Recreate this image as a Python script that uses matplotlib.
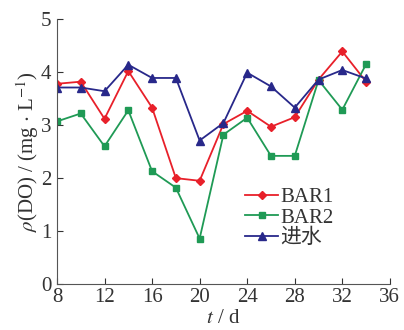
import matplotlib
matplotlib.use("Agg")
import matplotlib.pyplot as plt

days = [8, 10, 12, 14, 16, 18, 20, 22, 24, 26, 28, 30, 32, 34]
bar1 = [3.78, 3.82, 3.12, 4.02, 3.33, 2.00, 1.95, 3.02, 3.27, 2.97, 3.15, 3.86, 4.39, 3.82]
bar2 = [3.07, 3.22, 2.60, 3.28, 2.13, 1.82, 0.86, 2.82, 3.14, 2.42, 2.42, 3.85, 3.29, 4.15]
inflow = [3.71, 3.71, 3.64, 4.14, 3.89, 3.89, 2.71, 3.04, 3.99, 3.73, 3.33, 3.86, 4.04, 3.88]
labels = ["BAR1", "BAR2", "进水"]
xticks = [8, 12, 16, 20, 24, 28, 32, 36]
yticks = [0, 1, 2, 3, 4, 5]

plt.rcParams['font.family'] = ['Liberation Serif', 'Noto Sans CJK SC']
plt.rcParams['mathtext.fontset'] = 'stix'

fig = plt.figure(figsize=(4.04, 3.30), dpi=100)
ax = fig.add_axes([0.141, 0.139, 0.824, 0.803])

ax.plot(days, bar1, color='#e8202a', marker='D', markersize=4.5, lw=1.3, label=labels[0])
ax.plot(days, bar2, color='#1f9a55', marker='s', markersize=5, lw=1.3, label=labels[1])
ax.plot(days, inflow, color='#28288a', marker='^', markersize=6, lw=1.3, label=labels[2])

ax.set_xlim(8, 36)
ax.set_ylim(0, 5)
ax.set_xticks(xticks)
ax.set_yticks(yticks)
ax.tick_params(direction='in', length=4, width=0.8, labelsize=15, colors='#333333')
ax.tick_params(axis='x', pad=3)
ax.tick_params(axis='y', pad=4)
for s in ['top', 'right']:
    ax.spines[s].set_visible(False)
for s in ['left', 'bottom']:
    ax.spines[s].set_color('#555555')
    ax.spines[s].set_linewidth(0.8)

ax.set_xlabel(r'$t$ / d', fontsize=15, labelpad=1, color='#333333')
ax.set_ylabel(r'$\rho$(DO) / (mg $\cdot$ L$^{-1}$)', fontsize=15, labelpad=0, color='#333333')

leg = ax.legend(loc='center left', bbox_to_anchor=(0.565, 0.25), frameon=False, fontsize=15,
                handlelength=1.6, handletextpad=0.1, labelspacing=0.05, borderpad=0.0,
                borderaxespad=0.0)
for t in leg.get_texts():
    t.set_color('#333333')

fig.savefig('out.png', dpi=100)
